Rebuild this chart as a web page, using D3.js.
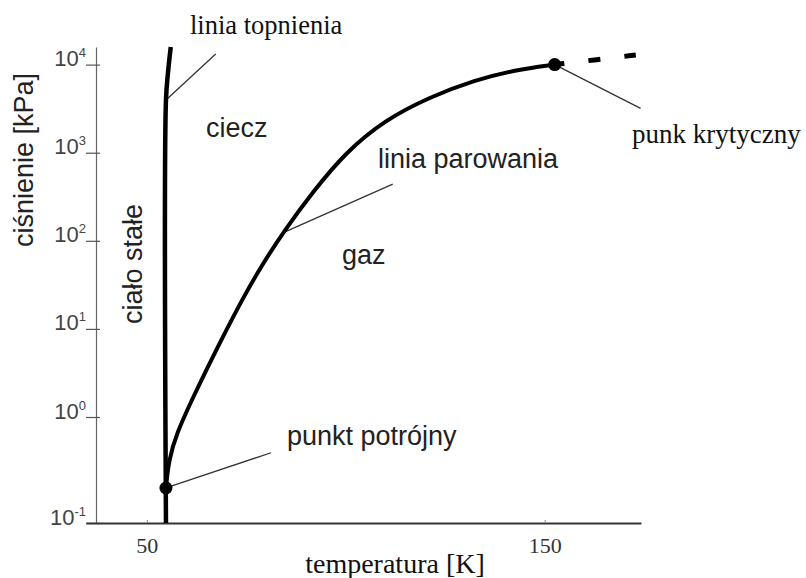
<!DOCTYPE html>
<html>
<head>
<meta charset="utf-8">
<script src="https://cdn.jsdelivr.net/npm/d3@7/dist/d3.min.js"></script>
<style>
body { margin: 0; background: #fff; }
.sans { font-family: "Liberation Sans", Arial, sans-serif; fill: #222; }
.serif { font-family: "Liberation Serif", "Times New Roman", serif; fill: #111; }
</style>
</head>
<body>
<svg id="chart" width="806" height="578"></svg>
<script>
// phase diagram, values (T in K, p in kPa)
var meltT = [54.8, 54.8, 55.3, 56.0];
var meltP = [0.1, 3960, 8030, 15850];

var vapT = [54.8, 55.5, 57.5, 61.3, 65.3, 69.6, 73.9, 78.9, 84.7, 91.7, 99.8, 109.8, 121.1, 132.5, 142.5, 152.5];
var vapP = [0.214, 0.393, 0.706, 1.56, 3.70, 8.98, 21.3, 53.1, 133, 358, 993, 2350, 4290, 6680, 8690, 10000];

// dashed continuation past the critical point
var extT = [152.5, 162.4, 172.9];
var extP = [10000, 11300, 12850];

var triple = [54.8, 0.214];
var critical = [152.5, 10000];

var yExps = [-1, 0, 1, 2, 3, 4];
var xTicks = [50, 150];

// leader lines: [from T, from p, to T, to p]
var leaders = [
    [54.8, 3960, 67.3, 13200],     // linia topnienia
    [85.0, 128, 111.8, 441],       // linia parowania
    [152.5, 10000, 174.1, 3190],   // punk krytyczny
    [54.8, 0.214, 81.2, 0.46]      // punkt potrójny
];

var svg = d3.select("#chart");

var x = d3.scaleLinear()
    .domain([34.7, 174.2])
    .range([86, 641]);
// the picture's log axis is not evenly spaced below 10^0
var y = d3.scaleLinear()
    .domain([-1, 0, 4.2])
    .range([523, 417, 47]);
function py(p) { return y(Math.log10(p)); }

function zip(a, b) { return a.map(function(d, i) { return [d, b[i]]; }); }

var line = d3.line()
    .x(function(d) { return x(d[0]); })
    .y(function(d) { return py(d[1]); })
    .curve(d3.curveCatmullRom.alpha(0.5));

// y axis
var yAxis = svg.append("g")
    .attr("transform", "translate(96,0)")
    .call(d3.axisLeft(y).tickValues(yExps).tickSizeInner(10).tickSizeOuter(0).tickFormat(""));
yAxis.select(".domain").attr("stroke", "#666").attr("stroke-width", 1.2);
yAxis.selectAll(".tick line").attr("x1", 4).attr("stroke", "#555").attr("stroke-width", 1.2);
yAxis.selectAll(".tick text").each(function(e) {
    var t = d3.select(this)
        .attr("class", "sans")
        .attr("x", -10)
        .attr("dy", 1)
        .style("font-size", "22px")
        .style("fill", "#444");
    t.append("tspan").text("10");
    t.append("tspan")
        .attr("dy", -9)
        .style("font-size", "13px")
        .text(e);
});

// x axis
var xAxis = svg.append("g")
    .attr("transform", "translate(0,523)")
    .call(d3.axisBottom(x).tickValues(xTicks).tickSizeInner(-3).tickSizeOuter(0).tickPadding(14));
xAxis.select(".domain").attr("stroke", "#333").attr("stroke-width", 2);
xAxis.selectAll(".tick line").attr("stroke", "#888");
xAxis.selectAll(".tick text")
    .attr("class", "serif")
    .style("font-size", "22px")
    .style("fill", "#333");

// leader lines
svg.append("g").selectAll("line")
    .data(leaders)
    .enter()
        .append("line")
        .attr("x1", function(d) { return x(d[0]); })
        .attr("y1", function(d) { return py(d[1]); })
        .attr("x2", function(d) { return x(d[2]); })
        .attr("y2", function(d) { return py(d[3]); })
        .attr("stroke", "#333")
        .attr("stroke-width", 1.3);

// melting and vaporization curves
svg.append("path")
    .attr("d", line(zip(meltT, meltP)))
    .attr("fill", "none")
    .attr("stroke", "#000")
    .attr("stroke-width", 4.5);
svg.append("path")
    .attr("d", line.curve(d3.curveBasis)(zip(vapT, vapP)))
    .attr("fill", "none")
    .attr("stroke", "#000")
    .attr("stroke-width", 4);
svg.append("path")
    .attr("d", line(zip(extT, extP)))
    .attr("fill", "none")
    .attr("stroke", "#000")
    .attr("stroke-width", 5)
    .attr("stroke-dasharray", "12,24")
    .attr("stroke-dashoffset", 2);

svg.append("g").selectAll("circle")
    .data([triple, critical])
    .enter()
        .append("circle")
        .attr("cx", function(d) { return x(d[0]); })
        .attr("cy", function(d) { return py(d[1]); })
        .attr("r", 6.5)
        .attr("fill", "#000");

// region / curve labels
var sansLabels = [
    {t: "ciecz", x: 206, y: 137},
    {t: "linia parowania", x: 378, y: 168},
    {t: "gaz", x: 342, y: 264},
    {t: "punkt potrójny", x: 287, y: 445}
];
svg.append("g").selectAll("text")
    .data(sansLabels)
    .enter()
        .append("text")
        .attr("class", "sans")
        .attr("x", function(d) { return d.x; })
        .attr("y", function(d) { return d.y; })
        .style("font-size", "27px")
        .text(function(d) { return d.t; });

svg.append("text")
    .attr("class", "sans")
    .attr("transform", "translate(142,264) rotate(-90)")
    .attr("text-anchor", "middle")
    .style("font-size", "27px")
    .text("ciało stałe");

svg.append("text")
    .attr("class", "sans")
    .attr("transform", "translate(33,160) rotate(-90)")
    .attr("text-anchor", "middle")
    .style("font-size", "27px")
    .text("ciśnienie [kPa]");

svg.append("text")
    .attr("class", "serif")
    .attr("x", 190).attr("y", 34)
    .style("font-size", "26.5px")
    .text("linia topnienia");

svg.append("text")
    .attr("class", "serif")
    .attr("x", 632).attr("y", 143)
    .style("font-size", "27px")
    .text("punk krytyczny");

svg.append("text")
    .attr("class", "serif")
    .attr("x", 395).attr("y", 573)
    .attr("text-anchor", "middle")
    .style("font-size", "28px")
    .text("temperatura [K]");
</script>
</body>
</html>
